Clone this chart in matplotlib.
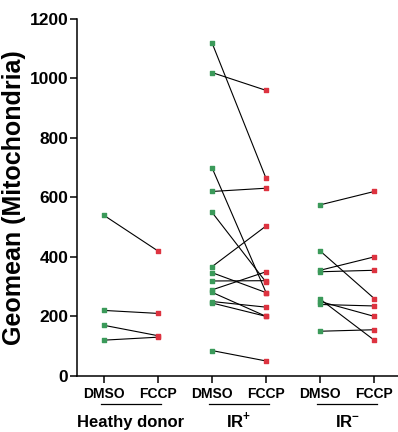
import matplotlib.pyplot as plt
import matplotlib.transforms as mtransforms

# paired values, DMSO -> FCCP
hd_dmso = [540, 220, 170, 120]
hd_fccp = [420, 210, 135, 130]
irp_dmso = [1120, 1020, 700, 620, 550, 367, 347, 319, 289, 281, 250, 245, 85]
irp_fccp = [664, 960, 280, 631, 315, 504, 280, 320, 350, 200, 231, 200, 50]
irn_dmso = [575, 420, 355, 350, 258, 250, 240, 150]
irn_fccp = [620, 260, 400, 355, 120, 200, 235, 155]

groups = [(hd_dmso, hd_fccp), (irp_dmso, irp_fccp), (irn_dmso, irn_fccp)]
group_labels = ["Heathy donor", r"IR$^{\mathbf{+}}$", r"IR$^{\mathbf{-}}$"]
tick_labels = ["DMSO", "FCCP"] * 3
yticks = [0, 200, 400, 600, 800, 1000, 1200]

green = "#3b9a5a"
red = "#dd3340"

plt.rcParams["font.family"] = ["Liberation Sans", "DejaVu Sans"]
plt.rcParams["mathtext.fontset"] = "custom"
plt.rcParams["mathtext.rm"] = "Liberation Sans:bold"
plt.rcParams["mathtext.bf"] = "Liberation Sans:bold"

fig = plt.figure(figsize=(3.98, 4.32), dpi=100)
ax = fig.add_axes([0.193, 0.13, 0.807, 0.826])

for i, (dmso, fccp) in enumerate(groups):
    x0, x1 = 2 * i + 1, 2 * i + 2
    for a, b in zip(dmso, fccp):
        ax.plot([x0, x1], [a, b], color="black", lw=0.8, zorder=1)
    ax.scatter([x0] * len(dmso), dmso, marker="s", s=9, color=green, zorder=2)
    ax.scatter([x1] * len(fccp), fccp, marker="s", s=9, color=red, zorder=2)

ax.set_xlim(0.5, 6.44)
ax.set_ylim(0, 1200)
ax.set_yticks(yticks)
ax.set_xticks(range(1, 7))
ax.set_xticklabels(tick_labels, fontsize=10, fontweight="bold")
ax.tick_params(axis="y", labelsize=12.5, width=1.1, length=5, pad=1)
ax.tick_params(axis="x", width=1.1, length=5, pad=3)
for lab in ax.get_yticklabels():
    lab.set_fontweight("bold")
ax.spines["top"].set_visible(False)
ax.spines["right"].set_visible(False)
ax.spines["left"].set_linewidth(1.1)
ax.spines["bottom"].set_linewidth(1.1)
ax.set_ylabel("Geomean (Mitochondria)", fontsize=18, fontweight="bold", labelpad=3)

trans = mtransforms.blended_transform_factory(ax.transData, ax.transAxes)
for i, lab in enumerate(group_labels):
    x0, x1 = 2 * i + 1, 2 * i + 2
    ax.plot([x0 - 0.05, x1 + 0.05], [-0.08, -0.08], color="black", lw=0.9,
            transform=trans, clip_on=False)
    ax.text((x0 + x1) / 2, -0.143, lab, transform=trans, ha="center", va="baseline",
            fontsize=12, fontweight="bold")

fig.savefig("out.png", dpi=100)
